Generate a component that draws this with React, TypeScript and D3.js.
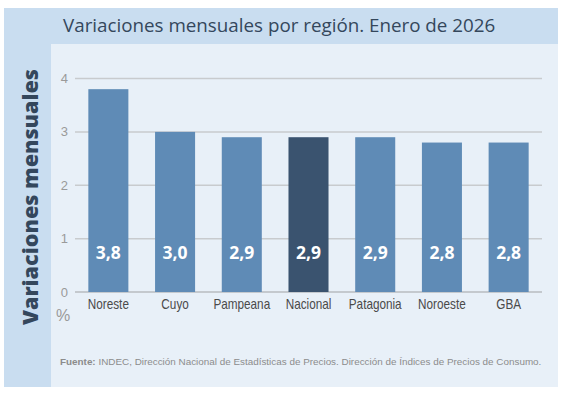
import React from "react";
import * as d3 from "d3";

const categories = ["Noreste", "Cuyo", "Pampeana", "Nacional", "Patagonia", "Noroeste", "GBA"];
const values = [3.8, 3.0, 2.9, 2.9, 2.9, 2.8, 2.8];
const valueLabels = ["3,8", "3,0", "2,9", "2,9", "2,9", "2,8", "2,8"];
const highlight = ["Nacional"];
const yTicks = [0, 1, 2, 3, 4];

const W = 570;
const H = 394;

export default function App() {
  const x = d3.scaleBand<string>().domain(categories).range([75, 542]).paddingInner(0.4).paddingOuter(0.2);
  const y = d3.scaleLinear().domain([0, 4]).range([292, 78.5]);
  const titleFont = "'Open Sans', sans-serif";
  const sans = "'Liberation Sans', Arial, sans-serif";
  return (
    <svg width={W} height={H} style={{ position: "absolute", left: 0, top: 0 }} xmlns="http://www.w3.org/2000/svg">
      <rect x={0} y={0} width={W} height={H} fill="#ffffff" />
      <rect x={4} y={8} width={554} height={379} fill="#c9ddf0" />
      <rect x={51} y={44} width={507} height={343} fill="#e8f0f8" />
      <text x={63} y={32} fontFamily={titleFont} fontSize={18.8} fill="#34475c">
        Variaciones mensuales por región. Enero de 2026
      </text>
      <text
        transform={`translate(37.5,${197}) rotate(-90)`}
        textAnchor="middle"
        fontFamily={titleFont}
        fontWeight={800}
        fontSize={21.6}
        fill="#34475c"
      >
        Variaciones mensuales
      </text>
      {yTicks.map((t) => (
        <g key={t}>
          <line x1={75} x2={542} y1={y(t)} y2={y(t)} stroke={t === 0 ? "#b8bcc0" : "#c8cbce"} strokeWidth={1.5} />
          <text x={68} y={y(t) + 4.5} textAnchor="end" fontFamily={sans} fontSize={13} fill="#9a9a9a">
            {t}
          </text>
        </g>
      ))}
      <text x={63} y={321} textAnchor="middle" fontFamily={sans} fontSize={16} fill="#9a9a9a">
        %
      </text>
      {categories.map((c, i) => {
        const cx = (x(c) as number) + x.bandwidth() / 2;
        return (
          <g key={c}>
            <rect
              x={x(c)}
              y={y(values[i])}
              width={x.bandwidth()}
              height={y(0) - y(values[i])}
              fill={highlight.includes(c) ? "#3a536f" : "#5f8bb6"}
            />
            <text x={cx} y={259} textAnchor="middle" fontFamily={titleFont} fontWeight={700} fontSize={17.5} fill="#ffffff">
              {valueLabels[i]}
            </text>
            <text
              transform={`translate(${cx},309) scale(0.84,1)`}
              textAnchor="middle"
              fontFamily={sans}
              fontSize={14}
              fill="#4a4a4a"
            >
              {c}
            </text>
          </g>
        );
      })}
      <text x={60} y={365} fontFamily={sans} fontSize={9.9} fill="#8c8c8c">
        <tspan fontWeight={700}>Fuente:</tspan> INDEC, Dirección Nacional de Estadísticas de Precios. Dirección de Índices de Precios de Consumo.
      </text>
    </svg>
  );
}
